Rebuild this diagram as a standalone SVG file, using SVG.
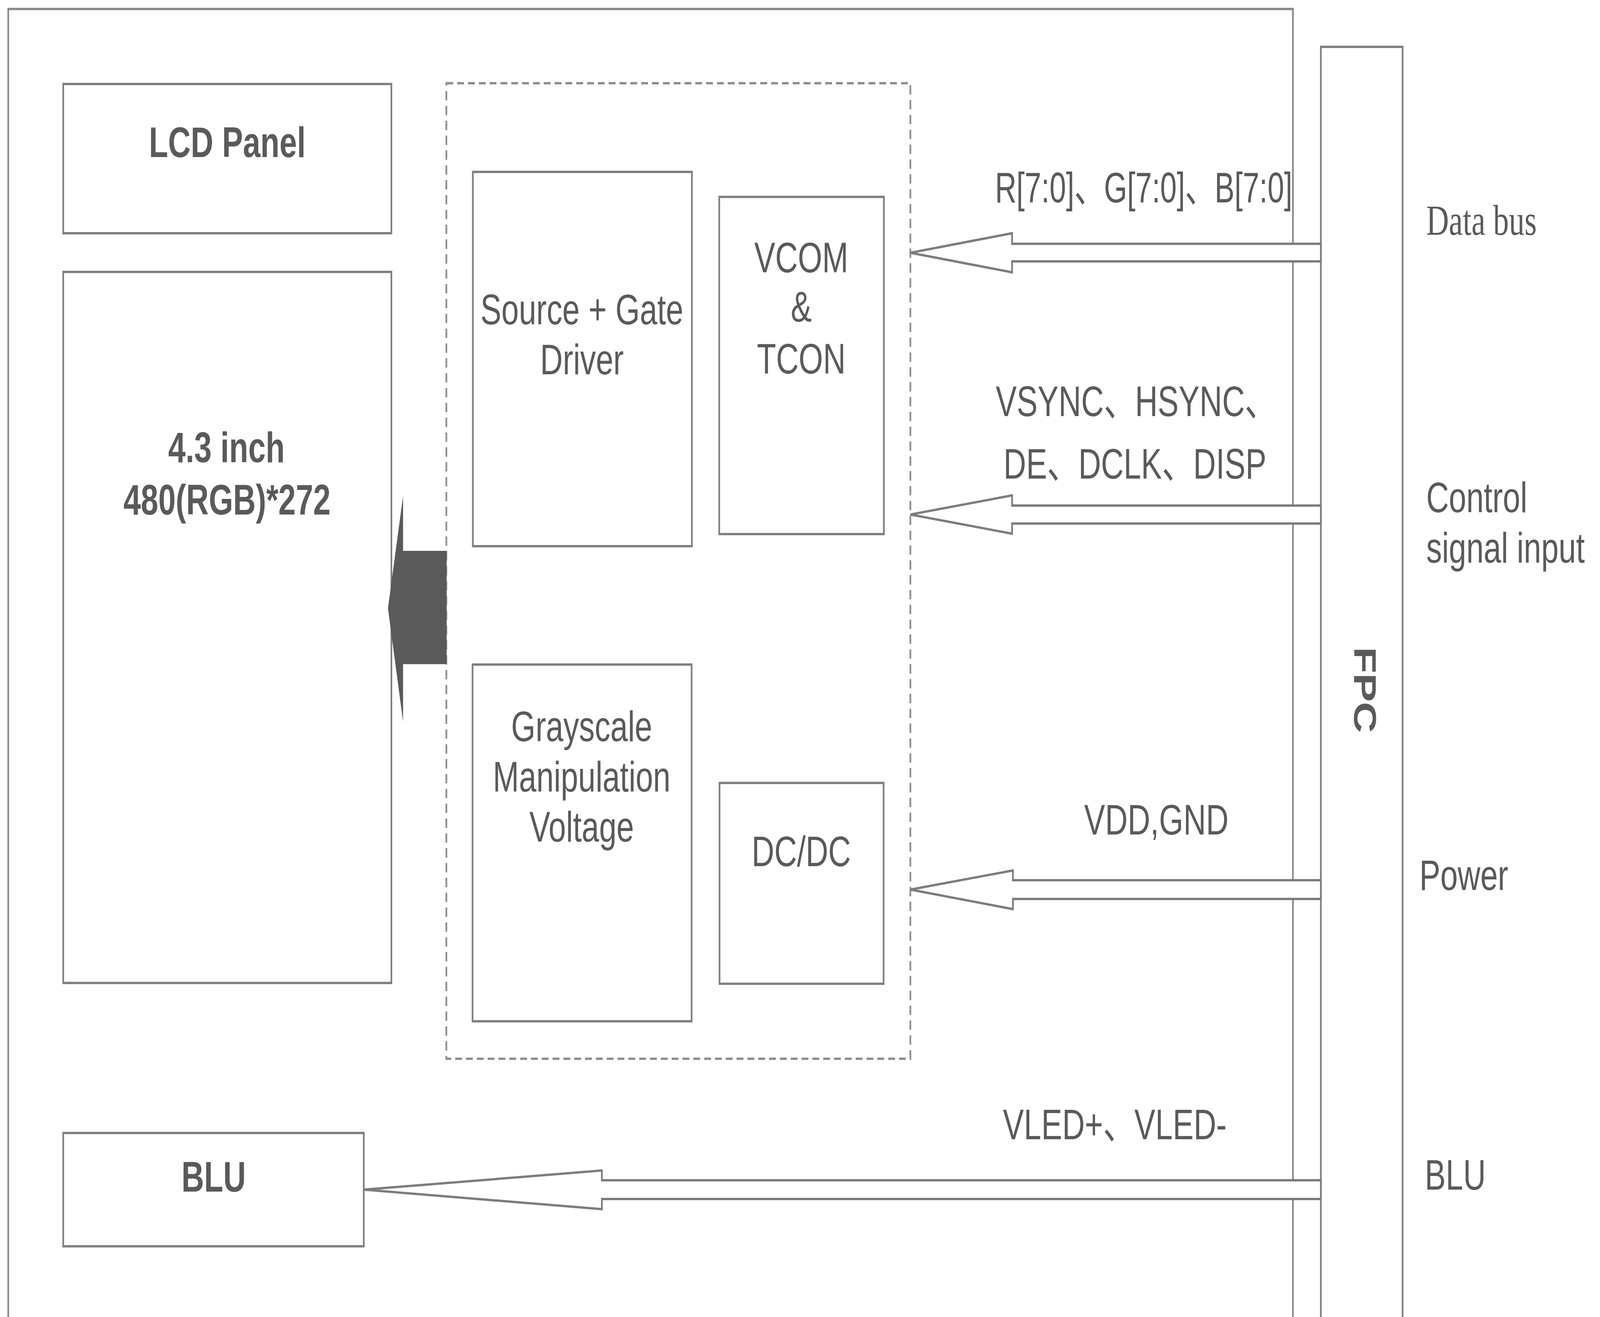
<svg xmlns="http://www.w3.org/2000/svg" width="5617" height="3371" viewBox="0 0 5617 3371" preserveAspectRatio="none" style="width:100vw;height:100vh;display:block">
<defs>
<style>
.box{fill:#ffffff;stroke:#7d827d;stroke-width:6}
.frame{fill:none;stroke:#8a8a8a;stroke-width:6}
.dash{fill:none;stroke:#8a918a;stroke-width:6;stroke-dasharray:24 14}
.arrow{fill:#ffffff;stroke:#7a7e7a;stroke-width:6;stroke-linejoin:miter}
.t{font-family:"Liberation Sans",Arial,"Noto Sans CJK SC",sans-serif;font-size:110px;fill:#5a5a5a}
.b{font-weight:bold}
.s{font-family:"Liberation Serif","Times New Roman",serif;font-size:110px;fill:#5a5a5a}
.m{text-anchor:middle}
</style>
</defs>
<rect width="5617" height="3371" fill="#ffffff"/>
<g id="outer-frame">
<rect class="frame" x="29" y="23" width="4510" height="3400"/>
</g>
<g id="lcd-panel-title">
<rect class="box" x="222" y="215" width="1152" height="382"/>
<text class="t b m" x="798" y="402">LCD Panel</text>
</g>
<g id="lcd-panel">
<rect class="box" x="222" y="696" width="1152" height="1820"/>
<text class="t b m" x="795" y="1183">4.3 inch</text>
<text class="t b m" x="797" y="1317">480(RGB)*272</text>
</g>
<g id="driver-ic">
<rect class="dash" x="1567" y="213" width="1629" height="2497"/>
</g>
<g id="source-gate-driver">
<rect class="box" x="1660" y="440" width="769" height="958"/>
<text class="t m" x="2043" y="830">Source + Gate</text>
<text class="t m" x="2043" y="958">Driver</text>
</g>
<g id="vcom-tcon">
<rect class="box" x="2525" y="504" width="578" height="863"/>
<text class="t m" x="2813" y="697">VCOM</text>
<text class="t m" x="2813" y="823">&amp;</text>
<text class="t m" x="2813" y="956">TCON</text>
</g>
<g id="grayscale">
<rect class="box" x="1659" y="1701" width="769" height="913"/>
<text class="t m" x="2042" y="1897">Grayscale</text>
<text class="t m" x="2042" y="2026">Manipulation</text>
<text class="t m" x="2042" y="2154">Voltage</text>
</g>
<g id="dcdc">
<rect class="box" x="2526" y="2004" width="576" height="514"/>
<text class="t m" x="2813" y="2217">DC/DC</text>
</g>
<g id="blu">
<rect class="box" x="222" y="2900" width="1055" height="290"/>
<text class="t b m" x="750" y="3050">BLU</text>
</g>
<g id="fpc">
<rect class="box" x="4637" y="120" width="287" height="3300"/>
<text class="t b m" transform="translate(4754,1766) rotate(90)" x="0" y="0">FPC</text>
</g>
<g id="connectors">
<polygon fill="#5a5a5a" points="1362,1557 1415,1269 1415,1410 1568,1410 1568,1700 1415,1700 1415,1847"/>
<polygon class="arrow" points="3196,647 3553,597 3553,624 4637,624 4637,669 3553,669 3553,697"/>
<polygon class="arrow" points="3196,1317 3553,1268 3553,1294 4637,1294 4637,1340 3553,1340 3553,1366"/>
<polygon class="arrow" points="3196,2277 3556,2228 3556,2253 4637,2253 4637,2301 3556,2301 3556,2327"/>
<polygon class="arrow" points="1278,3045 2113,2996 2113,3021 4637,3021 4637,3069 2113,3069 2113,3095"/>
</g>
<g id="labels">
<text class="t" x="3493" y="518" textLength="1044" lengthAdjust="spacingAndGlyphs">R[7:0]、G[7:0]、B[7:0]</text>
<text class="t" x="3496" y="1065">VSYNC、HSYNC、</text>
<text class="t" x="3523" y="1225">DE、DCLK、DISP</text>
<text class="t" x="3806" y="2136">VDD,GND</text>
<text class="t" x="3521" y="2916">VLED+、VLED-</text>
<text class="s" x="5007" y="601">Data bus</text>
<text class="t" x="5007" y="1311">Control</text>
<text class="t" x="5007" y="1440">signal input</text>
<text class="t" x="4983" y="2278">Power</text>
<text class="t" x="5002" y="3045">BLU</text>
</g>
</svg>
